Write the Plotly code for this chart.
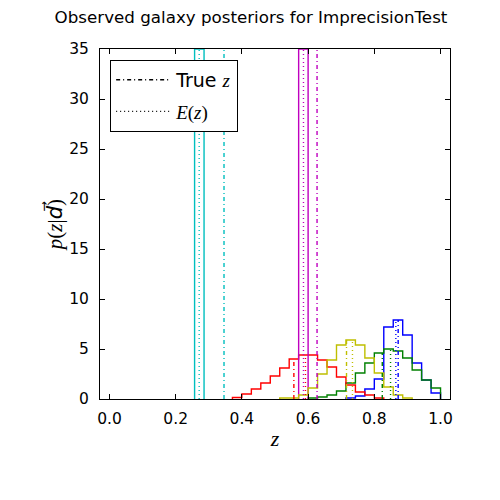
import numpy as np
import plotly.graph_objects as go

# 35 equal bins on [0, 1]
n_bins = 35
bin_edges = np.linspace(0.0, 1.0, n_bins + 1)

# posterior densities per bin
pdf_blue = [0]*25 + [0.1, 0.3, 1.0, 2.0, 7.2, 7.9, 6.4, 3.6, 1.9, 0.6]
pdf_green = [0]*21 + [0.1, 0.2, 0.4, 0.8, 1.6, 2.6, 3.6, 4.6, 5.0, 4.8, 4.1, 2.9, 1.9, 1.1]
pdf_red = [0]*13 + [0.15, 0.5, 1.0, 1.6, 2.3, 3.1, 4.0, 4.4, 4.4, 3.9, 3.2, 2.2, 1.4,
                    0.7, 0.4, 0.1] + [0]*6
pdf_cyan = [0]*9 + [35.0] + [0]*25
pdf_magenta = [0]*20 + [35.0] + [0]*14
pdf_yellow = [0]*18 + [0.1, 0.1, 0.4, 1.1, 2.5, 3.9, 5.4, 5.9, 5.4, 4.1, 2.6, 1.2,
                       0.4, 0.1] + [0]*3

colors = ['#0000ff', '#008000', '#ff0000', '#00bfbf', '#bf00bf', '#bfbf00']
pdfs = [pdf_blue, pdf_green, pdf_red, pdf_cyan, pdf_magenta, pdf_yellow]

# true redshifts and posterior means, with the height each marker line reaches
true_z = [0.872, 0.824, 0.557, 0.346, 0.627, 0.716]
true_h = [7.9, 4.6, 4.0, 35.0, 35.0, 5.9]
mean_z = [0.865, 0.849, 0.592, 0.271, 0.586, 0.734]
mean_h = [7.9, 5.0, 4.4, 35.0, 35.0, 5.9]

DASHDOT = "4px,3px,1px,3px"
DOT = "1px,3px"

fig = go.Figure()

for pdf, col in zip(pdfs, colors):
    # step outline over the non-empty bins only (the baseline is the axis)
    nz = np.nonzero(pdf)[0]
    lo, hi = nz[0], nz[-1] + 1
    fig.add_trace(go.Scatter(
        x=np.concatenate([[bin_edges[lo]], bin_edges[lo:hi + 1]]),
        y=[0] + list(pdf[lo:hi]) + [0],
        mode='lines', line=dict(color=col, width=1.4, shape='hv'),
        showlegend=False, hoverinfo='skip'))

for i, col in enumerate(colors):
    fig.add_trace(go.Scatter(
        x=[true_z[i], true_z[i]], y=[0, true_h[i]], mode='lines',
        line=dict(color=col, width=1.4, dash=DASHDOT), showlegend=False))
    fig.add_trace(go.Scatter(
        x=[mean_z[i], mean_z[i]], y=[0, mean_h[i]], mode='lines',
        line=dict(color=col, width=1.4, dash=DOT), showlegend=False))

# legend entries
fig.add_trace(go.Scatter(
    x=[None], y=[None], mode='lines', legendgroup='a',
    line=dict(color='black', width=1.4, dash=DASHDOT),
    name="True <span style='font-family:Liberation Serif'><i>z</i></span>"))
fig.add_trace(go.Scatter(
    x=[None], y=[None], mode='lines', legendgroup='b',
    line=dict(color='black', width=1.4, dash=DOT),
    name="<span style='font-family:Liberation Serif'><i>E</i>(<i>z</i>)</span>"))

axis_common = dict(
    showline=True, linecolor='black', linewidth=1, mirror='ticks',
    ticks='inside', ticklen=5, tickcolor='black', showgrid=False,
    zeroline=False, layer='above traces', automargin=False,
    tickfont=dict(family='DejaVu Sans', size=15.5, color='black'))

ylabel = ("<i>p</i>(<i>z</i>|<span style='font-family:DejaVu Sans'>"
          "<i>d\u20d7</i></span>)")

# the page adds an 8px body margin, so margins are 8px less on top/left
fig.update_layout(
    width=500, height=500,
    margin=dict(l=92, r=58, t=41, b=109),
    paper_bgcolor='white', plot_bgcolor='white',
    title=dict(text='Observed galaxy posteriors for ImprecisionTest',
               x=0.486, xanchor='center', y=0.982, yanchor='middle',
               font=dict(family='DejaVu Sans', size=16.7, color='black')),
    xaxis=dict(range=[-1/35, 1 + 1/35], tickvals=[0, 0.2, 0.4, 0.6, 0.8, 1.0],
               tickformat='.1f', ticklabelstandoff=5,
               title=dict(text='<i>z</i>', standoff=4,
                          font=dict(family='Liberation Serif', size=22, color='black')),
               **axis_common),
    yaxis=dict(range=[0, 35], tickvals=list(range(0, 36, 5)), ticklabelstandoff=7,
               title=dict(text=ylabel, standoff=0,
                          font=dict(family='Liberation Serif', size=21, color='black')),
               **axis_common),
    legend=dict(x=0.029, y=0.969, xanchor='left', yanchor='top',
                bgcolor='white', bordercolor='black', borderwidth=1,
                font=dict(family='DejaVu Sans', size=19, color='black'),
                tracegroupgap=4, itemwidth=55),
)

fig.write_html("out.html")
